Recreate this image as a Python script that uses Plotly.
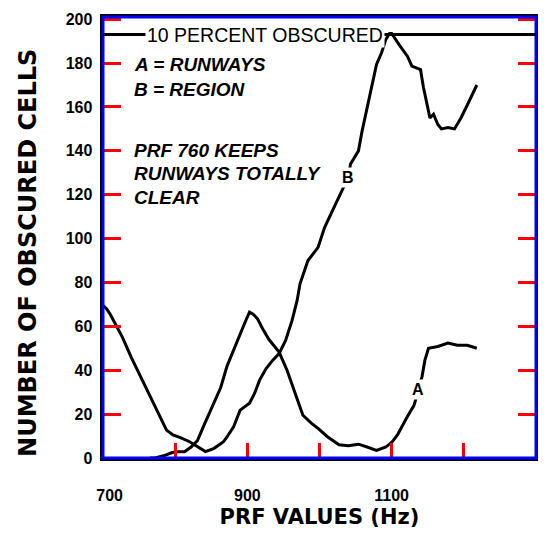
import plotly.graph_objects as go

# PRF (Hz) / obscured cells, curve A = runways
a_prf = [765, 772, 784, 795, 802, 813, 822, 831, 840, 851, 863, 872, 881, 890, 897,
         903, 908, 914, 921, 930, 944, 955, 966, 977, 989, 998, 1011, 1027, 1040,
         1054, 1066, 1079, 1092, 1101, 1108, 1115, 1122, 1131, 1137, 1142, 1146,
         1151, 1164, 1178, 1191, 1205, 1218]
a_cells = [0, 0, 1, 2.4, 2.9, 2.9, 5, 8, 15, 23, 32, 42, 49.5, 57, 62,
           66.5, 65.5, 63.5, 59, 54, 48.3, 40, 29.5, 19.5, 15.8, 13.5, 9.7, 6, 5.6,
           6.3, 5, 3.5, 5, 7.5, 10.5, 15, 19, 24, 31, 37, 44.5,
           50, 50.8, 52.4, 51.4, 51.4, 50]

# curve B = region
b_prf = [700, 705, 710, 718, 727, 739, 750, 761, 770, 779, 788, 797, 808, 820, 829,
         836, 842, 854, 867, 872, 881, 890, 896, 903, 910, 917, 926, 935, 944, 953,
         962, 969, 973, 984, 998, 1007, 1018, 1029, 1035, 1040, 1043, 1054, 1059,
         1065, 1072, 1079, 1086, 1092, 1097, 1100, 1110, 1122, 1128, 1140, 1144,
         1149, 1153, 1158, 1164, 1169, 1178, 1187, 1196, 1205, 1218]
b_cells = [69.5, 68, 65.5, 60.5, 55, 46, 38.5, 31, 25, 19, 12.7, 10.5, 9.2, 7.4, 5.6,
           4.4, 2.9, 4.4, 7.4, 9.7, 14.2, 21.8, 23.3, 25, 29.4, 35.5, 40.8, 44.5, 47.6, 53.6,
           62.7, 71.8, 79.4, 90, 96, 105, 112.7, 120.3, 124, 128, 134, 140, 149,
           158, 169, 179.4, 184.7, 190.8, 193.5, 193.5, 188.5, 183, 178.6, 177, 169,
           161, 155, 156.7, 152, 150, 150.6, 150, 155, 161, 170]

ten_percent = 193
x_ticks = [700, 800, 900, 1000, 1100, 1200, 1300]
x_labels = ["700", "", "900", "", "1100", "", "1300"]
y_ticks = list(range(0, 201, 20))

NB = "\u00a0"
x_text = ["<br><b>" + NB * 3 + x_labels[0] + "</b>"] \
         + ["<br><b>" + t + "</b>" if t else "" for t in x_labels[1:-1]] \
         + ["<br><b>" + x_labels[-1] + NB * 7 + "</b>"]
y_text = ["<b>" + str(v) + NB + "</b>" for v in y_ticks]

fig = go.Figure()
fig.add_trace(go.Scatter(x=a_prf, y=a_cells, mode="lines",
                         line=dict(color="black", width=3), showlegend=False))
fig.add_trace(go.Scatter(x=b_prf, y=b_cells, mode="lines",
                         line=dict(color="black", width=3), showlegend=False))

# frame round the plot area (coloured for a check)
fig.add_shape(type="rect", xref="paper", yref="paper", x0=0, x1=1, y0=0, y1=1,
              line=dict(color="blue", width=3))

fig.add_shape(type="line", xref="x", yref="y", x0=700, x1=1300,
              y0=ten_percent, y1=ten_percent, line=dict(color="black", width=3))
fig.add_annotation(x=925, y=ten_percent, text="10 PERCENT OBSCURED", showarrow=False,
                   bgcolor="white", font=dict(size=19.5, color="black"), borderpad=1)

fig.add_annotation(x=1040, y=128, text="<b>B</b>", showarrow=False, bgcolor="white",
                   font=dict(size=16, color="black"))
fig.add_annotation(x=1137, y=31, text="<b>A</b>", showarrow=False, bgcolor="white",
                   font=dict(size=16, color="black"))

notes = [("A = RUNWAYS", 179.5), ("B = REGION", 168),
         ("PRF 760 KEEPS", 140), ("RUNWAYS TOTALLY", 129.5), ("CLEAR", 118.6)]
for txt, yv in notes:
    fig.add_annotation(x=740, y=yv, text="<b><i>" + txt + "</i></b>", showarrow=False,
                       xanchor="left", font=dict(size=19, color="black"))

fig.add_annotation(xref="paper", yref="paper", x=-75 / 433, y=0.465,
                   xanchor="center", yanchor="middle",
                   text="<b>NUMBER OF OBSCURED CELLS</b>", showarrow=False, textangle=-90,
                   font=dict(size=24, color="black", family="DejaVu Sans"))

fig.update_xaxes(range=[700, 1300], tickvals=x_ticks, ticktext=x_text,
                 ticks="inside", ticklen=15, tickwidth=3, tickcolor="red",
                 showline=True, linewidth=3, linecolor="black", mirror=True,
                 showgrid=False, zeroline=False,
                 tickfont=dict(size=16, color="black"),
                 title=dict(text="<b>PRF VALUES (Hz)</b>", standoff=11,
                            font=dict(size=21, color="black", family="DejaVu Sans")))
fig.update_yaxes(range=[0, 201], tickvals=y_ticks, ticktext=y_text,
                 ticks="inside", ticklen=18, tickwidth=3, tickcolor="red",
                 showline=True, linewidth=3, linecolor="black", mirror="ticks",
                 showgrid=False, zeroline=False,
                 tickfont=dict(size=16, color="black"))

fig.update_layout(width=530, height=521, plot_bgcolor="white", paper_bgcolor="white",
                  margin=dict(l=95, r=2, t=9, b=71, autoexpand=False),
                  font=dict(family="Liberation Sans", color="black"))

fig.write_html("out.html")
